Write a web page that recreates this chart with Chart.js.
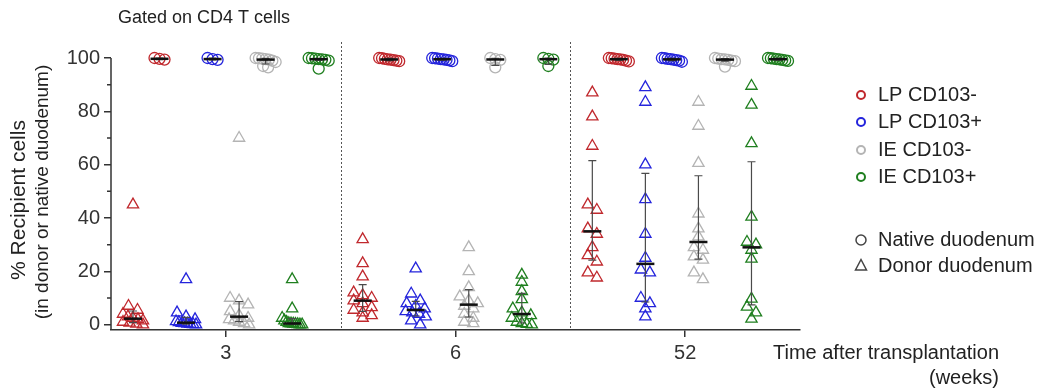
<!DOCTYPE html>
<html lang="en">
<head>
<meta charset="UTF-8">
<title>Recipient cells after transplantation</title>
<script src="https://cdn.jsdelivr.net/npm/chart.js"></script>
<style>
    body { margin: 0; padding: 0; background: #fff; }
    .wrap { position: relative; width: 1043px; height: 390px; }
</style>
</head>
<body>
<div class="wrap">
    <canvas id="chart" width="1043" height="390"></canvas>
</div>
<script>
    // categories
    const weeks = ['3', '6', '52'];
    const populations = ['LP CD103-', 'LP CD103+', 'IE CD103-', 'IE CD103+'];
    const sites = ['Native duodenum', 'Donor duodenum'];
    const yTicks = [0, 20, 40, 60, 80, 100];

    // % recipient cells, donor duodenum (triangles): [week 3, week 6, week 52]
    const lpNegDonor = [
        [45, 7, 5.5, 4, 3, 2.5, 2, 1.5, 1, 0.7, 0.3, 0],
        [32, 23, 18, 12, 11, 10, 9, 8, 6.5, 5.5, 4.5, 3.5, 2.5],
        [87, 78, 67, 45, 43, 36, 34, 29, 26, 23.6, 19.5, 17.6]
    ];
    const lpPosDonor = [
        [17, 4.5, 3, 2, 1.2, 0.9, 0.6, 0.5, 0.3, 0.2, 0.1, 0],
        [21, 11.6, 9, 8, 7, 6, 5, 4.5, 4, 3, 1.5, 0],
        [89, 83.5, 60, 47, 34, 25, 20.6, 19.5, 10, 8, 6, 3]
    ];
    const ieNegDonor = [
        [70, 10, 9, 7.5, 5, 3.5, 2.5, 2, 1.5, 1, 0.5, 0],
        [29, 20, 14, 10.5, 9, 8, 7, 6, 4, 2.5, 1, 0.5],
        [83.5, 74.5, 60.6, 41.6, 36, 33, 29, 28, 25.5, 24.3, 19.5, 17]
    ];
    const iePosDonor = [
        [17, 6, 2.5, 1.5, 1, 0.5, 0.4, 0.3, 0.2, 0.1, 0, 0],
        [18.7, 16, 12.5, 9.5, 6, 4.5, 3.5, 2.5, 1, 0.5, 0.2, 0],
        [89.5, 82.4, 68, 40.4, 31, 30, 28, 24.7, 9.7, 6.7, 4.5, 2.2]
    ];

    // % recipient cells, native duodenum (circles)
    const lpNegNative = [
        [100, 99.7, 99.4],
        [100, 99.9, 99.7, 99.5, 99.4, 99.2, 99, 98.8],
        [100, 99.9, 99.8, 99.6, 99.5, 99.3, 99, 98.7]
    ];
    const lpPosNative = [
        [100, 99.6, 99.3],
        [100, 99.9, 99.8, 99.6, 99.5, 99.3, 99.1, 98.8],
        [100, 99.9, 99.7, 99.6, 99.4, 99.2, 99, 98.6]
    ];
    const ieNegNative = [
        [100, 99.9, 99.8, 99.6, 99.4, 99, 98.5, 97, 96.5],
        [100, 99.6, 99.3, 96.5],
        [100, 99.8, 99.6, 99.5, 99.3, 99, 98.8, 96.8]
    ];
    const iePosNative = [
        [100, 99.9, 99.8, 99.6, 99.5, 99.3, 99, 96],
        [100, 99.7, 99.4, 97],
        [100, 99.9, 99.8, 99.6, 99.5, 99.3, 99.1, 98.9]
    ];

    const donorSeries = [lpNegDonor, lpPosDonor, ieNegDonor, iePosDonor];
    const nativeSeries = [lpNegNative, lpPosNative, ieNegNative, iePosNative];

    const popColors = ['#c0282d', '#2424dc', '#b4b4b4', '#1f7f1f'];
    const FONT = '"Liberation Sans", Arial, sans-serif';
    const slotGap = 0.1155;

    // one dataset per population and site, 8 slots per week
    const datasets = [];
    populations.forEach((pop, p) => {
        [['Donor', donorSeries[p], 'triangle', 6.5], ['Native', nativeSeries[p], 'circle', 5.5]].forEach((s, k) => {
            const slot = p * 2 + k;
            const pts = [];
            s[1].forEach((vals, w) => {
                const cx = w + 1 + (slot - 3.5) * slotGap;
                vals.forEach(v => pts.push({ x: cx, y: v, cx: cx }));
            });
            datasets.push({
                label: pop + ' ' + s[0],
                data: pts,
                pointStyle: s[2],
                pointRadius: s[3],
                pointHoverRadius: s[3],
                pointBorderWidth: 1.3,
                borderColor: popColors[p],
                backgroundColor: 'rgba(0,0,0,0)',
                showLine: false
            });
        });
    });

    function pct(sorted, p) {
        const n = sorted.length;
        let pos = p * (n + 1);
        if (pos < 1) pos = 1;
        if (pos > n) pos = n;
        const lo = Math.floor(pos);
        const f = pos - lo;
        return sorted[lo - 1] + (sorted[Math.min(lo, n - 1)] - sorted[lo - 1]) * f;
    }

    function groups(ds) {
        const g = {};
        ds.data.forEach(pt => { (g[pt.cx] = g[pt.cx] || []).push(pt); });
        return g;
    }

    // spread points that sit on the same level side by side (scatter dot plot)
    function spreadPoints(chart) {
        const xs = chart.scales.x, ys = chart.scales.y;
        chart.data.datasets.forEach(ds => {
            const maxStep = ds.pointStyle === 'circle' ? 5 : 9;
            Object.values(groups(ds)).forEach(pts => {
                const sorted = pts.slice().sort((a, b) => b.y - a.y);
                let i = 0;
                while (i < sorted.length) {
                    const top = ys.getPixelForValue(sorted[i].y);
                    let j = i;
                    while (j < sorted.length && ys.getPixelForValue(sorted[j].y) - top < 7) j++;
                    const row = sorted.slice(i, j);
                    const n = row.length;
                    const step = n > 1 ? Math.min(maxStep, 20 / (n - 1)) : 0;
                    const cpx = xs.getPixelForValue(row[0].cx);
                    row.forEach((pt, k) => {
                        pt.x = xs.getValueForPixel(cpx + (k - (n - 1) / 2) * step);
                    });
                    i = j;
                }
            });
        });
        chart.update('none');
    }

    const overlay = {
        id: 'overlay',
        beforeDatasetsDraw(chart) {
            const ctx = chart.ctx, xs = chart.scales.x, a = chart.chartArea;
            ctx.save();
            ctx.strokeStyle = '#555';
            ctx.lineWidth = 1;
            ctx.setLineDash([2, 2]);
            [1.5, 2.5].forEach(v => {
                const x = Math.round(xs.getPixelForValue(v)) + 0.5;
                ctx.beginPath();
                ctx.moveTo(x, a.top);
                ctx.lineTo(x, a.bottom);
                ctx.stroke();
            });
            ctx.restore();
        },
        afterDatasetsDraw(chart) {
            const ctx = chart.ctx, xs = chart.scales.x, ys = chart.scales.y, a = chart.chartArea;
            ctx.save();
            // y axis line from 100 down, minor ticks
            ctx.strokeStyle = '#333';
            ctx.lineWidth = 1.5;
            ctx.beginPath();
            ctx.moveTo(a.left, ys.getPixelForValue(100));
            ctx.lineTo(a.left, a.bottom);
            [10, 30, 50, 70, 90].forEach(v => {
                const y = ys.getPixelForValue(v);
                ctx.moveTo(a.left - 4, y);
                ctx.lineTo(a.left, y);
            });
            ctx.stroke();

            // median with interquartile range
            chart.data.datasets.forEach(ds => {
                Object.values(groups(ds)).forEach(pts => {
                    const vals = pts.map(p => p.y).sort((m, n) => m - n);
                    const q1 = ys.getPixelForValue(pct(vals, 0.25));
                    const med = ys.getPixelForValue(pct(vals, 0.5));
                    const q3 = ys.getPixelForValue(pct(vals, 0.75));
                    const x = xs.getPixelForValue(pts[0].cx);
                    ctx.strokeStyle = '#4a4a4a';
                    ctx.lineWidth = 1.2;
                    ctx.beginPath();
                    ctx.moveTo(x, q1); ctx.lineTo(x, q3);
                    ctx.moveTo(x - 4, q1); ctx.lineTo(x + 4, q1);
                    ctx.moveTo(x - 4, q3); ctx.lineTo(x + 4, q3);
                    ctx.stroke();
                    ctx.strokeStyle = '#111';
                    ctx.lineWidth = 2.5;
                    ctx.beginPath();
                    ctx.moveTo(x - 9, med); ctx.lineTo(x + 9, med);
                    ctx.stroke();
                });
            });
            ctx.restore();
        },
        afterDraw(chart) {
            const ctx = chart.ctx;
            ctx.save();
            ctx.fillStyle = '#222';
            ctx.textBaseline = 'middle';

            ctx.font = '18px ' + FONT;
            ctx.textAlign = 'left';
            ctx.fillText('Gated on CD4 T cells', 118, 18);

            // y title
            ctx.save();
            ctx.translate(19, 200);
            ctx.rotate(-Math.PI / 2);
            ctx.textAlign = 'center';
            ctx.font = '21px ' + FONT;
            ctx.fillText('% Recipient cells', 0, 0);
            ctx.restore();
            ctx.save();
            ctx.translate(43, 192);
            ctx.rotate(-Math.PI / 2);
            ctx.textAlign = 'center';
            ctx.font = '19px ' + FONT;
            ctx.fillText('(in donor or native duodenum)', 0, 0);
            ctx.restore();

            // x title
            ctx.font = '20px ' + FONT;
            ctx.textAlign = 'right';
            ctx.fillText('Time after transplantation', 999, 353);
            ctx.fillText('(weeks)', 999, 378);

            // legend
            ctx.textAlign = 'left';
            const rows = [95, 122, 150, 177];
            populations.forEach((pop, p) => {
                ctx.strokeStyle = popColors[p];
                ctx.lineWidth = 2;
                ctx.beginPath();
                ctx.arc(861, rows[p], 4, 0, Math.PI * 2);
                ctx.stroke();
                ctx.fillText(pop, 878, rows[p]);
            });
            ctx.strokeStyle = '#444';
            ctx.lineWidth = 1.5;
            ctx.beginPath();
            ctx.arc(861, 240, 5, 0, Math.PI * 2);
            ctx.stroke();
            ctx.beginPath();
            ctx.moveTo(861, 259.5);
            ctx.lineTo(866.5, 270);
            ctx.lineTo(855.5, 270);
            ctx.closePath();
            ctx.stroke();
            ctx.fillText(sites[0], 878, 240);
            ctx.fillText(sites[1], 878, 266);
            ctx.restore();
        }
    };

    const chart = new Chart(document.getElementById('chart'), {
        type: 'scatter',
        data: { datasets: datasets },
        options: {
            responsive: false,
            animation: false,
            layout: { padding: { top: 42, right: 243, left: 0, bottom: 0 } },
            plugins: { legend: { display: false }, tooltip: { enabled: false } },
            scales: {
                x: {
                    type: 'linear',
                    min: 0.5,
                    max: 3.5,
                    afterBuildTicks: scale => { scale.ticks = weeks.map((w, i) => ({ value: i + 1 })); },
                    afterFit: scale => { scale.height = 60; },
                    ticks: {
                        callback: v => weeks[v - 1],
                        font: { size: 20, family: FONT },
                        color: '#333',
                        padding: 4,
                        maxRotation: 0
                    },
                    grid: { drawOnChartArea: false, tickLength: 7, color: '#333', lineWidth: 1.5 },
                    border: { display: true, color: '#333', width: 1.5 }
                },
                y: {
                    min: -2,
                    max: 106,
                    afterBuildTicks: scale => { scale.ticks = yTicks.map(v => ({ value: v })); },
                    afterFit: scale => { scale.width = 111; },
                    ticks: {
                        font: { size: 20, family: FONT },
                        color: '#333',
                        padding: 4
                    },
                    grid: { drawOnChartArea: false, tickLength: 7, color: '#333', lineWidth: 1.5 },
                    border: { display: false }
                }
            }
        },
        plugins: [overlay]
    });

    spreadPoints(chart);
</script>
</body>
</html>
